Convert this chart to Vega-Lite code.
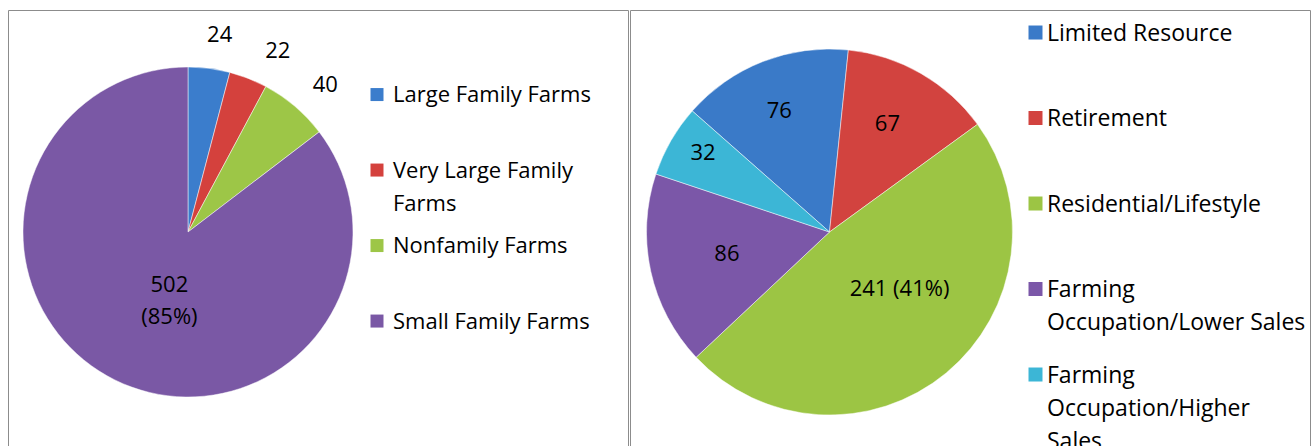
{
  "$schema": "https://vega.github.io/schema/vega-lite/v6.json",
  "padding": {"left": 7, "top": 9, "right": 0, "bottom": 0},
  "background": "#ffffff",
  "spacing": 0,
  "datasets": {
    "farms": [
      {"category": "Large Family Farms", "value": 24, "label": "24"},
      {"category": "Very Large Family Farms", "value": 22, "label": "22"},
      {"category": "Nonfamily Farms", "value": 40, "label": "40"},
      {"category": "Small Family Farms", "value": 502, "label": "502\n(85%)"}
    ],
    "households": [
      {"category": "Limited Resource", "value": 76, "label": "76"},
      {"category": "Retirement", "value": 67, "label": "67"},
      {"category": "Residential/Lifestyle", "value": 241, "label": "241 (41%)"},
      {"category": "Farming Occupation/Lower Sales", "value": 86, "label": "86"},
      {"category": "Farming Occupation/Higher Sales", "value": 32, "label": "32"}
    ]
  },
  "hconcat": [
    {
      "width": 620,
      "height": 444,
      "data": {"name": "farms"},
      "transform": [{"window": [{"op": "row_number", "as": "i"}]}],
      "encoding": {
        "theta": {"field": "value", "type": "quantitative", "stack": true},
        "order": {"field": "i", "type": "quantitative"},
        "x": {"datum": 0.2903, "type": "quantitative", "scale": {"domain": [0, 1], "nice": false, "zero": false}, "axis": null},
        "color": {
          "field": "category", "type": "nominal", "sort": null,
          "scale": {
            "domain": ["Large Family Farms", "Very Large Family Farms", "Nonfamily Farms", "Small Family Farms"],
            "range": ["#3b7dcc", "#d4413d", "#9dc647", "#7a58a5"]
          },
          "legend": {
            "orient": "none", "direction": "vertical", "columns": 1,
            "legendX": 358, "legendY": 64, "padding": 0, "title": null,
            "labelFont": "Open Sans", "labelFontSize": 22, "labelColor": "#000000",
            "labelBaseline": "top", "labelOffset": 5, "labelLimit": 500,
            "symbolType": "M-1,0.47H1V2.47H-1Z", "symbolSize": 169, "symbolStrokeWidth": 0, "symbolOffset": 0,
            "gridAlign": "all", "rowPadding": 10.5,
            "labelExpr": "datum.label == 'Very Large Family Farms' ? ['Very Large Family', 'Farms'] : datum.label"
          }
        }
      },
      "layer": [
        {"mark": {"type": "arc", "outerRadius": 165, "stroke": "#ffffff", "strokeWidth": 0.8, "strokeOpacity": 0.6}},
        {
          "mark": {"type": "text", "radius": 201, "dx": 6, "dy": 2, "font": "Open Sans", "fontSize": 22},
          "encoding": {
            "color": {"value": "#000000"},
            "text": {"condition": {"test": "datum.category == 'Large Family Farms'", "field": "label"}, "value": ""}
          }
        },
        {
          "mark": {"type": "text", "radius": 202, "dx": 16, "dy": 7, "font": "Open Sans", "fontSize": 22},
          "encoding": {
            "color": {"value": "#000000"},
            "text": {"condition": {"test": "datum.category == 'Very Large Family Farms'", "field": "label"}, "value": ""}
          }
        },
        {
          "mark": {"type": "text", "radius": 201, "dx": 7, "dy": 6, "font": "Open Sans", "fontSize": 22},
          "encoding": {
            "color": {"value": "#000000"},
            "text": {"condition": {"test": "datum.category == 'Nonfamily Farms'", "field": "label"}, "value": ""}
          }
        },
        {
          "mark": {"type": "text", "radius": 69, "dx": 12, "dy": -9, "font": "Open Sans", "fontSize": 22, "lineBreak": "\n", "lineHeight": 32},
          "encoding": {
            "color": {"value": "#000000"},
            "text": {"condition": {"test": "datum.category == 'Small Family Farms'", "field": "label"}, "value": ""}
          }
        }
      ]
    },
    {
      "width": 680,
      "height": 444,
      "data": {"name": "households"},
      "transform": [{"window": [{"op": "row_number", "as": "i"}]}],
      "encoding": {
        "theta": {"field": "value", "type": "quantitative", "stack": true, "scale": {"range": [-0.848, 5.4352]}},
        "order": {"field": "i", "type": "quantitative"},
        "x": {"datum": 0.2934, "type": "quantitative", "scale": {"domain": [0, 1], "nice": false, "zero": false}, "axis": null},
        "color": {
          "field": "category", "type": "nominal", "sort": null,
          "scale": {
            "domain": ["Limited Resource", "Retirement", "Residential/Lifestyle", "Farming Occupation/Lower Sales", "Farming Occupation/Higher Sales"],
            "range": ["#3a7ac8", "#d2433f", "#9cc544", "#7b57a8", "#3cb6d6"]
          },
          "legend": {
            "orient": "none", "direction": "vertical", "columns": 1,
            "legendX": 394, "legendY": 1, "padding": 0, "title": null,
            "labelFont": "Open Sans", "labelFontSize": 23, "labelColor": "#000000",
            "labelBaseline": "top", "labelOffset": 0, "labelLimit": 500,
            "symbolType": "M-1,0.43H1V2.43H-1Z", "symbolSize": 196, "symbolStrokeWidth": 0, "symbolOffset": 0,
            "gridAlign": "each", "rowPadding": 17.5,
            "labelExpr": "datum.label == 'Farming Occupation/Lower Sales' ? ['Farming', 'Occupation/Lower Sales'] : datum.label == 'Farming Occupation/Higher Sales' ? ['Farming', 'Occupation/Higher', 'Sales'] : [datum.label, '']"
          }
        }
      },
      "layer": [
        {"mark": {"type": "arc", "outerRadius": 183, "stroke": "#ffffff", "strokeWidth": 0.8, "strokeOpacity": 0.6}},
        {
          "mark": {"type": "text", "radius": 130, "dx": -3, "font": "Open Sans", "fontSize": 22},
          "encoding": {
            "color": {"value": "#000000"},
            "text": {"condition": {"test": "datum.category == 'Limited Resource'", "field": "label"}, "value": ""}
          }
        },
        {
          "mark": {"type": "text", "radius": 124, "dx": -4, "dy": -1, "font": "Open Sans", "fontSize": 22},
          "encoding": {
            "color": {"value": "#000000"},
            "text": {"condition": {"test": "datum.category == 'Retirement'", "field": "label"}, "value": ""}
          }
        },
        {
          "mark": {"type": "text", "radius": 146, "dy": -6, "font": "Open Sans", "fontSize": 22},
          "encoding": {
            "color": {"value": "#000000"},
            "text": {"condition": {"test": "datum.category == 'Farming Occupation/Higher Sales'", "field": "label"}, "value": ""}
          }
        },
        {
          "mark": {"type": "text", "radius": 103, "dx": -2, "font": "Open Sans", "fontSize": 22},
          "encoding": {
            "color": {"value": "#000000"},
            "text": {"condition": {"test": "datum.category == 'Farming Occupation/Lower Sales'", "field": "label"}, "value": ""}
          }
        },
        {
          "mark": {"type": "text", "radius": 91, "dx": 12, "dy": -13, "font": "Open Sans", "fontSize": 22},
          "encoding": {
            "color": {"value": "#000000"},
            "text": {"condition": {"test": "datum.category == 'Residential/Lifestyle'", "field": "label"}, "value": ""}
          }
        }
      ]
    }
  ],
  "resolve": {
    "scale": {"color": "independent", "x": "independent", "theta": "independent"},
    "legend": {"color": "independent"}
  },
  "config": {
    "font": "Open Sans",
    "view": {"stroke": "#8c8c8c", "strokeWidth": 1},
    "style": {"guide-label": {"lineHeight": 33}}
  }
}
